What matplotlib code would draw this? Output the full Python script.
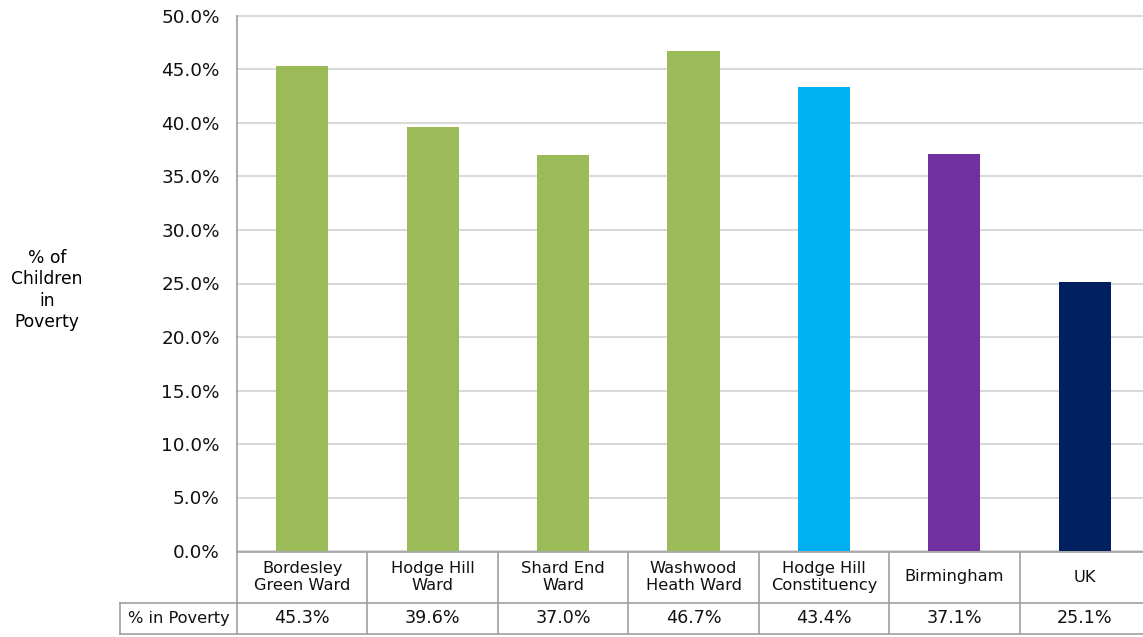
import matplotlib
matplotlib.use("Agg")
import matplotlib.pyplot as plt
from matplotlib.ticker import FuncFormatter, MultipleLocator

categories = ["Bordesley\nGreen Ward", "Hodge Hill\nWard", "Shard End\nWard",
              "Washwood\nHeath Ward", "Hodge Hill\nConstituency", "Birmingham", "UK"]
values = [45.3, 39.6, 37.0, 46.7, 43.4, 37.1, 25.1]
colors = ["#9BBB59", "#9BBB59", "#9BBB59", "#9BBB59", "#00B0F0", "#7030A0", "#002060"]
row_label = "% in Poverty"
ylabel = "% of\nChildren\nin\nPoverty"

W, H = 1143, 637
fig = plt.figure(figsize=(W / 100, H / 100), dpi=100)
plt.rcParams['font.family'] = ['DejaVu Sans']
fs_tick = 13.2
fs_cat = 11.7
fs_val = 12.6
fs_lab = 12.3

left_px, right_px, top_px, bot_px = 237, 1150, 16, 551
ax = fig.add_axes([left_px / W, (H - bot_px) / H, (right_px - left_px) / W, (bot_px - top_px) / H])

n = len(categories)
x = list(range(n))
ax.bar(x, values, width=0.4, color=colors, zorder=3)
ax.set_xlim(-0.5, n - 0.5)
ax.set_ylim(0, 50)
ax.yaxis.set_major_locator(MultipleLocator(5))
ax.yaxis.set_major_formatter(FuncFormatter(lambda v, p: f"{v:.1f}%"))
ax.grid(axis="y", color="#D9D9D9", linewidth=1.5, zorder=0)
for gl in ax.get_ygridlines():
    gl.set_clip_on(False)
ax.tick_params(axis="y", length=0, labelsize=fs_tick, pad=12.5, colors="black")
for t in ax.get_yticklabels():
    t.set_color("#111111")
ax.set_xticks([])
for s in ["top", "right", "bottom"]:
    ax.spines[s].set_visible(False)
ax.spines["left"].set_color("#A0A0A0")
ax.spines["left"].set_linewidth(1.2)

# y label
fig.text(47 / W, 1 - 290 / H, ylabel, ha="center", va="center", fontsize=fs_lab, linespacing=1.25)

# data table below axes
ah = bot_px - top_px
def yax(py):
    return (bot_px - py) / ah

r0, r1, r2 = yax(551.5), yax(602.5), yax(634)
lc = "#A0A0A0"
lw = 1.2
trans = ax.get_xaxis_transform()
for r in (r0, r1, r2):
    ax.plot([-0.5, n - 0.5], [r, r], transform=trans, color=lc, lw=lw, clip_on=False)
lab_left = (120 - left_px) / (right_px - left_px)
ax.plot([lab_left, 0], [r1, r1], transform=ax.transAxes, color=lc, lw=lw, clip_on=False)
ax.plot([lab_left, 0], [r2, r2], transform=ax.transAxes, color=lc, lw=lw, clip_on=False)
ax.plot([lab_left, lab_left], [r1, r2], transform=ax.transAxes, color=lc, lw=lw, clip_on=False)
for i in range(n + 1):
    xb = i - 0.5
    ax.plot([xb, xb], [r0, r2], transform=trans, color=lc, lw=lw, clip_on=False)

for i, (c, v) in enumerate(zip(categories, values)):
    ax.text(i, (r0 + r1) / 2, c, transform=trans, ha="center", va="center",
            fontsize=fs_cat, linespacing=1.15, color="#111111")
    ax.text(i, (r1 + r2) / 2, f"{v:.1f}%", transform=trans, ha="center", va="center",
            fontsize=fs_val, color="#111111")
ax.text((lab_left + 0) / 2, (r1 + r2) / 2, row_label, transform=ax.transAxes,
        ha="center", va="center", fontsize=fs_cat, color="#111111")

fig.savefig("out.png", dpi=100)
